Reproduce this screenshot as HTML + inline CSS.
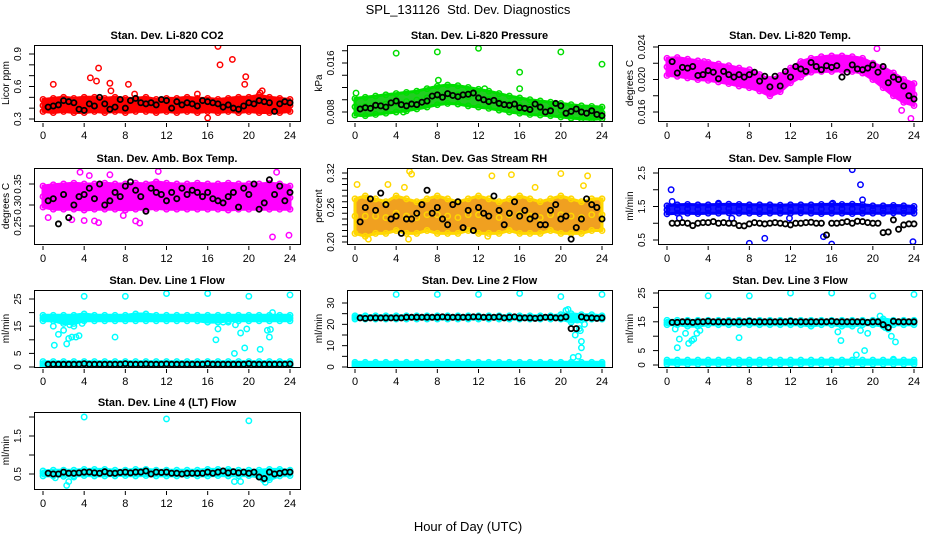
<!DOCTYPE html>
<html><head><meta charset="utf-8">
<style>
html,body{margin:0;padding:0;background:#fff;}
svg{display:block;font-family:"Liberation Sans",Arial,sans-serif;}
</style></head>
<body>
<svg id="chart" width="936" height="540" viewBox="0 0 936 540" xmlns="http://www.w3.org/2000/svg">
<rect x="0" y="0" width="936" height="540" fill="#fff"/>
<text x="468" y="14" text-anchor="middle" font-size="13">SPL_131126&#160; Std. Dev. Diagnostics</text>
<text x="468" y="531" text-anchor="middle" font-size="13">Hour of Day (UTC)</text>
</svg>
<script>
// ---- shared data ----
const hours = [0,1,2,3,4,5,6,7,8,9,10,11,12,13,14,15,16,17,18,19,20,21,22,23,24];
const halfHours = [0.5,1,1.5,2,2.5,3,3.5,4,4.5,5,5.5,6,6.5,7,7.5,8,8.5,9,9.5,10,10.5,11,11.5,12,12.5,13,13.5,14,14.5,15,15.5,16,16.5,17,17.5,18,18.5,19,19.5,20,20.5,21,21.5,22,22.5,23,23.5,24];
const xTicks = [0,4,8,12,16,20,24];

// ---- CO2 ----
const co2Lo = [0.37,0.36,0.37,0.36,0.36,0.37,0.36,0.37,0.36,0.37,0.37,0.36,0.37,0.36,0.37,0.36,0.37,0.36,0.37,0.36,0.37,0.36,0.36,0.36,0.37];
const co2Hi = [0.48,0.49,0.50,0.49,0.50,0.50,0.49,0.50,0.49,0.49,0.50,0.48,0.49,0.49,0.50,0.49,0.49,0.48,0.49,0.50,0.50,0.52,0.50,0.49,0.48];
const co2Black = [0.41,0.42,0.43,0.47,0.46,0.45,0.39,0.38,0.44,0.42,0.50,0.44,0.39,0.41,0.48,0.40,0.47,0.49,0.45,0.44,0.45,0.43,0.48,0.47,0.40,0.46,0.43,0.45,0.44,0.42,0.47,0.46,0.45,0.44,0.41,0.43,0.40,0.39,0.42,0.45,0.44,0.47,0.46,0.45,0.37,0.44,0.46,0.45];
const co2OutX = [1,4.6,5.4,5.2,6.5,6.6,8.3,8.9,16,17,17.2,18.4,19.7,19.6,15,21.3,21.1];
const co2OutY = [0.62,0.68,0.77,0.65,0.63,0.56,0.62,0.53,0.31,0.97,0.80,0.85,0.69,0.62,0.53,0.56,0.54];
const co2Ticks = [0.3,0.4,0.5,0.6,0.7,0.8,0.9];
const co2Labels = ["0.3","0.6","0.9"];

// ---- Pressure ----
const presLo = [0.0075,0.0074,0.0076,0.0078,0.0080,0.0082,0.0085,0.0088,0.0092,0.0094,0.0093,0.0090,0.0088,0.0086,0.0083,0.0080,0.0078,0.0076,0.0075,0.0074,0.0072,0.0070,0.0069,0.0068,0.0069];
const presHi = [0.0102,0.0104,0.0106,0.0108,0.0110,0.0112,0.0114,0.0118,0.0122,0.0124,0.0123,0.0120,0.0117,0.0114,0.0110,0.0106,0.0103,0.0100,0.0098,0.0096,0.0094,0.0092,0.0090,0.0089,0.0088];
const presBlack = [0.0085,0.0087,0.0086,0.0091,0.0090,0.0088,0.0095,0.0098,0.0092,0.0090,0.0093,0.0092,0.0096,0.0098,0.0106,0.0108,0.0104,0.0110,0.0107,0.0105,0.0108,0.0109,0.0111,0.0103,0.0100,0.0097,0.0099,0.0094,0.0092,0.0091,0.0093,0.0087,0.0086,0.0084,0.0093,0.0088,0.0080,0.0082,0.0094,0.0090,0.0078,0.0081,0.0085,0.0080,0.0078,0.0082,0.0076,0.0074];
const presOutX = [0.1,4,8,8.1,12,16,16,20,24,4.7,12.6];
const presOutY = [0.0111,0.0176,0.0178,0.0132,0.0184,0.0145,0.0118,0.0178,0.0158,0.0080,0.0118];
const presTicks = [0.008,0.010,0.012,0.014,0.016,0.018];
const presLabels = ["0.008","0.016"];

// ---- Li-820 Temp ----
const tempLo = [0.0205,0.0204,0.0202,0.0200,0.0199,0.0197,0.0195,0.0192,0.0190,0.0186,0.0180,0.0185,0.0196,0.0203,0.0209,0.0210,0.0210,0.0211,0.0210,0.0208,0.0200,0.0190,0.0180,0.0172,0.0168];
const tempHi = [0.0226,0.0227,0.0225,0.0223,0.0221,0.0219,0.0217,0.0214,0.0212,0.0206,0.0200,0.0205,0.0214,0.0222,0.0226,0.0228,0.0229,0.0229,0.0228,0.0226,0.0220,0.0215,0.0208,0.0200,0.0195];
const tempBlack = [0.0222,0.0208,0.0215,0.0214,0.0216,0.0205,0.0206,0.0211,0.0209,0.0201,0.0210,0.0206,0.0203,0.0206,0.0203,0.0206,0.0209,0.0198,0.0204,0.0191,0.0204,0.0192,0.0210,0.0203,0.0216,0.0213,0.0210,0.0221,0.0216,0.0212,0.0217,0.0215,0.0217,0.0203,0.0209,0.0218,0.0213,0.0212,0.0214,0.0218,0.0209,0.0216,0.0196,0.0203,0.0200,0.0192,0.0180,0.0176];
const tempOutX = [20.4,23.7,22.8,3.6,9.7];
const tempOutY = [0.0238,0.0152,0.0162,0.0222,0.0185];
const tempTicks = [0.016,0.018,0.020,0.022,0.024];
const tempLabels = ["0.016","0.020","0.024"];

// ---- Amb. Box Temp ----
const ambLo = [0.295,0.29,0.29,0.29,0.288,0.29,0.29,0.29,0.288,0.29,0.29,0.292,0.29,0.29,0.29,0.29,0.29,0.29,0.288,0.29,0.29,0.29,0.29,0.29,0.29];
const ambHi = [0.345,0.348,0.35,0.352,0.35,0.35,0.352,0.35,0.35,0.352,0.35,0.355,0.352,0.35,0.35,0.352,0.35,0.35,0.352,0.35,0.35,0.35,0.352,0.35,0.345];
const ambBlack = [0.31,0.315,0.255,0.325,0.27,0.30,0.32,0.325,0.34,0.315,0.35,0.30,0.31,0.33,0.32,0.345,0.355,0.335,0.32,0.285,0.34,0.33,0.325,0.31,0.33,0.315,0.34,0.325,0.335,0.33,0.32,0.33,0.315,0.31,0.305,0.32,0.33,0.295,0.34,0.325,0.35,0.29,0.305,0.36,0.325,0.345,0.31,0.33];
const ambOutX = [2.8,4,5,5.4,9,9.4,22.3,23.9,0.5,3.6,11.2,22.7,4.5,6.5,7.8];
const ambOutY = [0.265,0.263,0.262,0.258,0.262,0.257,0.224,0.228,0.27,0.378,0.38,0.378,0.37,0.372,0.275];
const ambTicks = [0.25,0.30,0.35];
const ambLabels = ["0.25","0.30","0.35"];

// ---- Gas Stream RH ----
const rhLo = [0.215,0.21,0.215,0.215,0.22,0.215,0.215,0.22,0.215,0.215,0.215,0.22,0.215,0.215,0.215,0.22,0.215,0.215,0.215,0.22,0.215,0.215,0.215,0.22,0.22];
const rhHi = [0.275,0.28,0.275,0.27,0.28,0.275,0.27,0.275,0.28,0.275,0.27,0.275,0.28,0.275,0.27,0.275,0.28,0.275,0.27,0.275,0.28,0.275,0.27,0.275,0.275];
const rhBlack = [0.235,0.26,0.275,0.255,0.285,0.265,0.24,0.245,0.215,0.24,0.24,0.25,0.265,0.29,0.25,0.26,0.24,0.23,0.265,0.27,0.225,0.255,0.22,0.26,0.25,0.245,0.28,0.255,0.23,0.25,0.27,0.245,0.255,0.24,0.245,0.23,0.23,0.255,0.265,0.24,0.245,0.205,0.225,0.24,0.275,0.265,0.26,0.24];
const rhOutX = [0.2,5.3,5.5,13.3,15.2,20,22.6,1.3,5.2,12.9,3.2,4.8,17.5,22.2];
const rhOutY = [0.30,0.323,0.318,0.315,0.317,0.319,0.315,0.205,0.205,0.21,0.30,0.295,0.295,0.298];
const rhTicks = [0.20,0.21,0.22,0.23,0.24,0.25,0.26,0.27,0.28,0.29,0.30,0.31,0.32];
const rhLabels = ["0.20","0.26","0.32"];

// ---- Sample Flow ----
const sfLo = [1.28,1.30,1.30,1.29,1.30,1.30,1.31,1.30,1.30,1.29,1.30,1.30,1.30,1.31,1.30,1.29,1.30,1.30,1.29,1.30,1.30,1.30,1.31,1.30,1.30];
const sfHi = [1.52,1.55,1.56,1.55,1.55,1.56,1.57,1.56,1.55,1.55,1.55,1.54,1.55,1.55,1.55,1.56,1.57,1.56,1.57,1.55,1.52,1.52,1.53,1.52,1.50];
const sfBlack = [1.0,1.0,1.02,1.0,0.93,1.0,1.02,1.02,1.05,1.0,1.02,1.0,1.0,0.93,0.92,0.98,1.02,1.0,0.98,1.0,1.02,1.0,0.98,0.95,1.0,1.0,1.02,1.03,1.0,1.0,0.65,1.0,1.0,1.02,1.05,1.0,1.06,1.05,1.02,1.0,1.0,0.72,0.74,1.1,0.82,0.95,0.98,0.98];
const sfOutX = [0.4,0.5,8,9.5,15.2,16,18,18.8,19,23.9,5,16.1,1.2,6.3,11.9];
const sfOutY = [2.0,1.65,0.4,0.55,0.6,0.38,2.6,2.15,1.7,0.45,1.6,1.6,1.15,1.15,1.15];
const sfTicks = [0.5,1.0,1.5,2.0,2.5];
const sfLabels = ["0.5","1.5","2.5"];

// ---- Line 1 Flow ----
const l1TopLo = [17,17,16,16,17,17,17,17,17,17,17,17,17,17,17,17,16.5,16.5,17,17,17,17,17,17,17];
const l1TopHi = [19,19,19,19,19.5,19,19,19,19,19.5,19.5,19,19,19,19,19,19,19,19,19,19,19,19,19,19];
const l1BotLo = [0.4,0.4,0.4,0.4,0.4,0.4,0.4,0.4,0.4,0.4,0.4,0.4,0.4,0.4,0.4,0.4,0.4,0.4,0.4,0.4,0.4,0.4,0.4,0.4,0.4];
const l1BotHi = [2,2,2,2,2,2,2,2,2,2,2,2,2,2,2,2,2,2,2,2,2,2,2,2,2];
const l1Black = [1,1,1,1,1,1,1,1.2,1,1,1,1,1,1,1,1.2,1,1,1,1.1,1,1,1,1.1,1,1,1,1,1,1,1,1.2,1,1,1,1,1,1,1,1.2,1,1,1,1,1,1,1,1.1];
const l1OutX = [4,8,12,16,20,24,1,1.1,1.5,2,2.3,2.5,2.8,3.2,3.5,2.6,3,3.8,7,17,16.8,18.6,18.7,19.2,19.6,19.8,21.1,21.8,22,22.1,22.3,17.5,18];
const l1OutY = [26,26,27,27,26,26.5,15,8,12,13.5,8.5,10.5,11,11,11.5,15.5,15,16,11,14,10,5,15.5,12.5,7,14,6.5,13.5,11,13.8,20,16.5,16.5];
const l1Ticks = [0,5,10,15,20,25];
const l1Labels = ["0","5","15","25"];

// ---- Line 2 Flow ----
const l2TopLo = [22.5,22.5,22.5,22.5,22.5,22.5,22.5,22.5,22.5,22.5,22.5,22.5,22.5,22.5,22.5,22.5,22.5,22.5,22.5,22.5,22.5,21,22,22.5,22.5];
const l2TopHi = [24,24,24,24,24,24,24,24,24,24,24,24,24,24,24,24,24,24,24,24,24.5,25,24.5,24.5,24];
const l2BotLo = [0.5,0.5,0.5,0.5,0.5,0.5,0.5,0.5,0.5,0.5,0.5,0.5,0.5,0.5,0.5,0.5,0.5,0.5,0.5,0.5,0.5,0.5,0.5,0.5,0.5];
const l2BotHi = [2.2,2.2,2.2,2.2,2.2,2.2,2.2,2.2,2.2,2.2,2.2,2.2,2.2,2.2,2.2,2.2,2.2,2.2,2.2,2.2,2.2,2.2,2.2,2.2,2.2];
const l2Black = [23,22.8,23,23,23,23,23,23,23,23.3,23.3,23.3,23.3,23.3,23.3,23.3,23.5,23.3,23.3,23.3,23.3,23.3,23.5,23.5,23.3,23.3,23.3,23.5,23,23.3,23.5,23,23,23,22.8,23,23.3,23.3,23,23,23.5,18,18,23.5,23,23,22.8,23];
const l2OutX = [4,8,12,16,20,24,20.7,20.5,21.2,21.7,21.8,22,22,21.4,22.3,21.6,21.9];
const l2OutY = [34,34,34,34.5,33,34,27,26.5,4.5,5,18,12,9,15,20,22,17];
const l2Ticks = [0,5,10,15,20,25,30];
const l2Labels = ["0","10","20","30"];

// ---- Line 3 Flow ----
const l3TopLo = [14,14,13.5,13.5,14,14,14,14,14,14,14,14,14,14,13.5,14,14,13.5,13.5,14,14,13.5,14,14,14];
const l3TopHi = [15.5,15.5,15.5,15.5,15.5,15.5,15.5,15.5,15.5,15.5,15.5,15.5,15.5,15.5,15.5,15.5,15.5,15.5,15.5,15.5,15.5,16,15.5,15.5,15.5];
const l3BotLo = [0.3,0.3,0.3,0.3,0.3,0.3,0.3,0.3,0.3,0.3,0.3,0.3,0.3,0.3,0.3,0.3,0.3,0.3,0.3,0.3,0.3,0.3,0.3,0.3,0.3];
const l3BotHi = [1.7,1.7,1.7,1.7,1.7,1.7,1.7,1.7,1.7,1.7,1.7,1.7,1.7,1.7,1.7,1.7,1.7,1.7,1.7,1.7,1.7,1.7,1.7,1.7,1.7];
const l3Black = [14.8,14.8,15,15,14.8,15,15,15.2,15,15,15,15,15,15,15,15.2,15,15,15,15,15,15,15,15.2,15,15,15,15,15,15,15,15.2,15,15,15,15,15,15,14.8,15,15,14,13,15.2,15,15,15,15];
const l3OutX = [4,8,12,16,20,24,1,1.2,1.8,2.1,2.4,2.6,2.9,3.2,0.8,7,16.9,16.6,18.4,19.2,19.5,18.8,20.7,21.8,22.2,22,21.2,21.5];
const l3OutY = [24,24,25,25,24,24.5,6,9,11,7.5,8.5,9,11,12,12.5,9.5,8.5,11.5,3.5,5,11,12,17,10,8,2,13,12.5];
const l3Ticks = [0,5,10,15,20,25];
const l3Labels = ["0","5","15","25"];

// ---- Line 4 (LT) Flow ----
const l4Lo = [0.45,0.45,0.44,0.45,0.46,0.45,0.45,0.46,0.46,0.45,0.46,0.45,0.45,0.45,0.46,0.45,0.45,0.46,0.45,0.45,0.46,0.42,0.35,0.45,0.46];
const l4Hi = [0.58,0.60,0.60,0.60,0.62,0.62,0.62,0.60,0.60,0.62,0.62,0.60,0.60,0.60,0.60,0.60,0.62,0.62,0.62,0.60,0.60,0.60,0.62,0.62,0.60];
const l4Black = [0.52,0.5,0.5,0.55,0.52,0.52,0.53,0.55,0.55,0.53,0.52,0.56,0.52,0.52,0.54,0.55,0.53,0.55,0.55,0.58,0.5,0.55,0.54,0.55,0.52,0.52,0.5,0.52,0.52,0.52,0.52,0.55,0.52,0.55,0.58,0.53,0.56,0.53,0.55,0.52,0.55,0.42,0.38,0.55,0.5,0.52,0.55,0.55];
const l4OutX = [4,12,20,2.3,2.5,3,18.6,19.2,21.6,21.4,1.2,7];
const l4OutY = [2.0,1.95,1.9,0.2,0.3,0.42,0.3,0.3,0.28,0.35,0.4,0.45];
const l4Ticks = [0.5,1.0,1.5,2.0];
const l4Labels = ["0.5","1.5"];

// ---- layout (pixels) ----
const colBox = [[34,300,43,290],[347,612,355,602],[658,922,667,914]];
const rowBox = [[45,121],[168,244],[290,367],[412,489]];

const panels = [
 {id:"co2",title:"Stan. Dev. Li-820 CO2",ylab:"Licor ppm",c:0,r:0,ref:[0.3,119,0.9,54],col:"#ff0000",fill:"#ff0000",
  bands:[[co2Lo,co2Hi]],black:co2Black,ox:co2OutX,oy:co2OutY,ticks:co2Ticks,labels:co2Labels},
 {id:"pressure",title:"Stan. Dev. Li-820 Pressure",ylab:"kPa",c:1,r:0,ref:[0.008,112,0.016,63],col:"#00dd00",fill:"#22cc22",
  bands:[[presLo,presHi]],black:presBlack,ox:presOutX,oy:presOutY,ticks:presTicks,labels:presLabels},
 {id:"li820-temp",title:"Stan. Dev. Li-820 Temp.",ylab:"degrees C",c:2,r:0,ref:[0.016,112,0.024,47],col:"#ff00ff",fill:"#ff00ff",
  bands:[[tempLo,tempHi]],black:tempBlack,ox:tempOutX,oy:tempOutY,ticks:tempTicks,labels:tempLabels},
 {id:"amb-box-temp",title:"Stan. Dev. Amb. Box Temp.",ylab:"degrees C",c:0,r:1,ref:[0.25,226,0.35,184],col:"#ff00ff",fill:"#ff00ff",
  bands:[[ambLo,ambHi]],black:ambBlack,ox:ambOutX,oy:ambOutY,ticks:ambTicks,labels:ambLabels},
 {id:"gas-stream-rh",title:"Stan. Dev. Gas Stream RH",ylab:"percent",c:1,r:1,ref:[0.20,242,0.32,173],col:"#ffd700",fill:"#f0a020",
  bands:[[rhLo,rhHi]],black:rhBlack,ox:rhOutX,oy:rhOutY,ticks:rhTicks,labels:rhLabels},
 {id:"sample-flow",title:"Stan. Dev. Sample Flow",ylab:"ml/min",c:2,r:1,ref:[0.5,240,2.5,173],col:"#0000ff",fill:"#1a1aff",
  bands:[[sfLo,sfHi]],black:sfBlack,ox:sfOutX,oy:sfOutY,ticks:sfTicks,labels:sfLabels},
 {id:"line1-flow",title:"Stan. Dev. Line 1 Flow",ylab:"ml/min",c:0,r:2,ref:[0,367,25,299],col:"#00ffff",fill:"#00ffff",
  bands:[[l1TopLo,l1TopHi],[l1BotLo,l1BotHi]],black:l1Black,ox:l1OutX,oy:l1OutY,ticks:l1Ticks,labels:l1Labels},
 {id:"line2-flow",title:"Stan. Dev. Line 2 Flow",ylab:"ml/min",c:1,r:2,ref:[0,367,30,303],col:"#00ffff",fill:"#00ffff",
  bands:[[l2TopLo,l2TopHi],[l2BotLo,l2BotHi]],black:l2Black,ox:l2OutX,oy:l2OutY,ticks:l2Ticks,labels:l2Labels},
 {id:"line3-flow",title:"Stan. Dev. Line 3 Flow",ylab:"ml/min",c:2,r:2,ref:[0,365,25,293],col:"#00ffff",fill:"#00ffff",
  bands:[[l3TopLo,l3TopHi],[l3BotLo,l3BotHi]],black:l3Black,ox:l3OutX,oy:l3OutY,ticks:l3Ticks,labels:l3Labels},
 {id:"line4-flow",title:"Stan. Dev. Line 4 (LT) Flow",ylab:"ml/min",c:0,r:3,ref:[0.5,474,1.5,436],col:"#00ffff",fill:"#00ffff",
  bands:[[l4Lo,l4Hi]],black:l4Black,ox:l4OutX,oy:l4OutY,ticks:l4Ticks,labels:l4Labels}
];

const NS = "http://www.w3.org/2000/svg";
const svg = document.getElementById("chart");
function mk(tag, attrs, parent){
  const e = document.createElementNS(NS, tag);
  for (const k in attrs) e.setAttribute(k, attrs[k]);
  (parent||svg).appendChild(e);
  return e;
}

panels.forEach(p => {
  const [bl, br, x0, x24] = colBox[p.c];
  const [bt, bb] = rowBox[p.r];
  const xs = h => x0 + (x24 - x0) * h / 24;
  const [v1, y1, v2, y2] = p.ref;
  const ys = v => y1 + (v - v1) * (y2 - y1) / (v2 - v1);

  const g = mk("g", {});
  
  

  const clip = mk("clipPath", {id: "clip-" + p.id}, g);
  mk("rect", {x: bl, y: bt, width: br - bl, height: bb - bt}, clip);
  const plot = mk("g", {"clip-path": "url(#clip-" + p.id + ")"}, g);
  
  

  p.bands.forEach(([lo, hi], bi) => {
    let d = "";
    hours.forEach((h, i) => { d += (i ? "L" : "M") + xs(h).toFixed(1) + "," + ys(hi[i]).toFixed(1); });
    for (let i = hours.length - 1; i >= 0; i--) d += "L" + xs(hours[i]).toFixed(1) + "," + ys(lo[i]).toFixed(1);
    d += "Z";
    const band = mk("path", {d: d, fill: p.fill, stroke: p.col, "stroke-width": 3, "stroke-linejoin": "round"}, plot);
    
    
    hours.forEach((h, i) => {
      [lo[i], hi[i], (lo[i] + hi[i]) / 2].forEach(v => {
        const c = mk("circle", {cx: xs(h), cy: ys(v), r: 2.7, fill: "none", stroke: p.col, "stroke-width": 1.5}, plot);
        
        
      });
    });
  });
  p.ox.forEach((h, i) => {
    const c = mk("circle", {cx: xs(h), cy: ys(p.oy[i]), r: 2.7, fill: "none", stroke: p.col, "stroke-width": 1.5}, plot);
    
    
  });
  halfHours.forEach((h, i) => {
    const c = mk("circle", {cx: xs(h), cy: ys(p.black[i]), r: 2.6, fill: "none", stroke: "#000", "stroke-width": 1.8}, plot);
    
    
  });

  const box = mk("rect", {x: bl + 0.5, y: bt + 0.5, width: br - bl, height: bb - bt, fill: "none", stroke: "#000", "stroke-width": 1}, g);
  
  

  const t = mk("text", {x: (bl + br) / 2, y: bt - 6, "text-anchor": "middle", "font-size": 11, "font-weight": "bold"}, g);
  t.textContent = p.title;
  
  

  xTicks.forEach(v => {
    const x = xs(v);
    const tk = mk("line", {x1: x, y1: bb + 2, x2: x, y2: bb + 6, stroke: "#000"}, g);
    
    
    const tl = mk("text", {x: x, y: bb + 18, "text-anchor": "middle", "font-size": 11}, g);
    tl.textContent = String(v);
    
    
  });

  p.ticks.forEach(v => {
    const y = ys(v);
    const tk = mk("line", {x1: bl - 5, y1: y, x2: bl, y2: y, stroke: "#000"}, g);
    
    
  });
  p.labels.forEach(s => {
    const y = ys(parseFloat(s));
    const tl = mk("text", {x: bl - 13, y: y, "text-anchor": "middle", "font-size": 10, transform: "rotate(-90 " + (bl - 13) + " " + y + ")"}, g);
    tl.textContent = s;
    
    
  });
  const ym = (bt + bb) / 2;
  const yl = mk("text", {x: bl - 25, y: ym, "text-anchor": "middle", "font-size": 10, transform: "rotate(-90 " + (bl - 25) + " " + ym + ")"}, g);
  yl.textContent = p.ylab;
  
  
});
</script>
</body></html>
